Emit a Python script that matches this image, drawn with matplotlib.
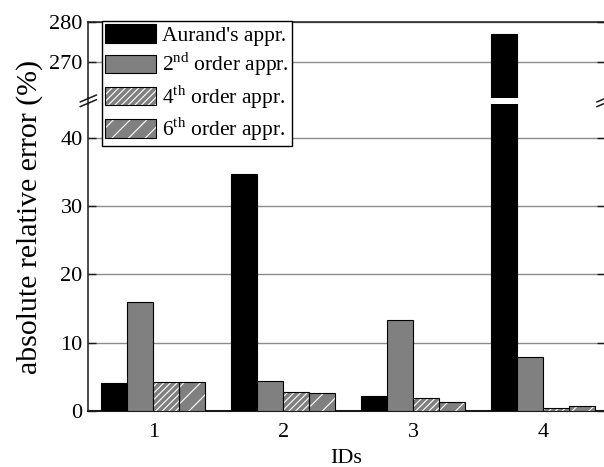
import numpy as np
import matplotlib
matplotlib.use("Agg")
import matplotlib.pyplot as plt
from matplotlib.patches import Rectangle
from matplotlib.lines import Line2D

plt.rcParams['font.family'] = ['Liberation Serif', 'DejaVu Serif']
plt.rcParams['mathtext.fontset'] = 'custom'
plt.rcParams['mathtext.rm'] = 'Liberation Serif'
plt.rcParams['hatch.linewidth'] = 0.8

# ----------------------------
# Data
# ----------------------------
ids = [1, 2, 3, 4]
aurand = [4.0, 34.8, 2.15, 277.0]
order2 = [15.9, 4.4, 13.3, 7.9]
order4 = [4.2, 2.75, 1.8, 0.35]
order6 = [4.25, 2.55, 1.3, 0.7]

labels = ["Aurand's appr.", r"2$^{\rm nd}$ order appr.",
          r"4$^{\rm th}$ order appr.", r"6$^{\rm th}$ order appr."]

W, H = 604, 467
fig = plt.figure(figsize=(W / 100, H / 100), dpi=100)

x_left, x_right = 88.3, 605.0
top_t, top_b = 21.7, 97.7
bot_t, bot_b = 104.0, 410.7


def fig_rect(l, r, t, b):
    return [l / W, 1 - b / H, (r - l) / W, (b - t) / H]


ax_top = fig.add_axes(fig_rect(x_left, x_right, top_t, top_b))
ax_bot = fig.add_axes(fig_rect(x_left, x_right, bot_t, bot_b))

width = 0.2
x = np.array(ids, dtype=float)
gray = '#808080'
spine_c = '#1a1a1a'

for ax in (ax_top, ax_bot):
    ax.bar(x - 1.5 * width, aurand, width, color='black', edgecolor='black', lw=0.8, zorder=3)
    ax.bar(x - 0.5 * width, order2, width, color=gray, edgecolor='black', lw=0.8, zorder=3)
    # hatched bars: white hatch, black outline drawn separately
    ax.bar(x + 0.5 * width, order4, width, color=gray, edgecolor='white', lw=0, hatch='/////', zorder=3)
    ax.bar(x + 0.5 * width, order4, width, fill=False, edgecolor='black', lw=0.8, zorder=4)
    ax.bar(x + 1.5 * width, order6, width, color=gray, edgecolor='white', lw=0, hatch='//', zorder=3)
    ax.bar(x + 1.5 * width, order6, width, fill=False, edgecolor='black', lw=0.8, zorder=4)

    ax.set_xlim(0.5, 4.475)
    ax.yaxis.grid(True, color='#8c8c8c', lw=1.0, zorder=0)
    ax.set_axisbelow(True)
    ax.tick_params(axis='y', direction='in', length=6, width=1.0, left=True, right=True,
                   labelsize=16, colors=spine_c, labelcolor='black', pad=4)
    ax.tick_params(axis='x', length=0, labelsize=16, pad=9)
    for s in ax.spines.values():
        s.set_color(spine_c)
        s.set_linewidth(1.1)

ax_top.set_ylim(261, 280)
ax_top.set_yticks([270, 280])
ax_top.set_xticks([])
ax_top.spines['bottom'].set_visible(False)

ax_bot.set_ylim(0, 45)
ax_bot.set_yticks([0, 10, 20, 30, 40])
ax_bot.set_xticks(ids)
ax_bot.set_xticklabels([str(i) for i in ids])
ax_bot.spines['top'].set_visible(False)
ax_bot.spines['bottom'].set_linewidth(1.5)
ax_bot.set_xlabel('IDs', fontsize=16, labelpad=5)

# left spine through the gap
fig.add_artist(Line2D([x_left / W, x_left / W], [1 - top_b / H, 1 - bot_t / H],
                      transform=fig.transFigure, color=spine_c, lw=1.1))

# break marks
for xc in (x_left, x_right):
    for yc in (top_b + 0.8, bot_t - 0.8):
        fig.add_artist(Line2D([(xc - 8) / W, (xc + 8) / W],
                              [1 - (yc + 3.4) / H, 1 - (yc - 3.4) / H],
                              transform=fig.transFigure, color=spine_c, lw=1.1))

fig.text(30 / W, 1 - 217 / H, 'absolute relative error (%)', rotation=90,
         fontsize=21.5, ha='center', va='center')

# legend
h_aur = Rectangle((0, 0), 1, 1, facecolor='black', edgecolor='black', lw=0.8)
h_o2 = Rectangle((0, 0), 1, 1, facecolor=gray, edgecolor='black', lw=0.8)
h_o4 = (Rectangle((0, 0), 1, 1, facecolor=gray, edgecolor='white', lw=0, hatch='/////'),
        Rectangle((0, 0), 1, 1, fill=False, edgecolor='black', lw=0.8))
h_o6 = (Rectangle((0, 0), 1, 1, facecolor=gray, edgecolor='white', lw=0, hatch='//'),
        Rectangle((0, 0), 1, 1, fill=False, edgecolor='black', lw=0.8))
leg = fig.legend([h_aur, h_o2, h_o4, h_o6], labels, loc='upper left',
                 bbox_to_anchor=(102 / W, 1 - 21.2 / H), bbox_transform=fig.transFigure,
                 fontsize=15.5, frameon=True, fancybox=False, framealpha=1,
                 handlelength=2.35, handleheight=0.95, handletextpad=0.3,
                 labelspacing=0.22, borderpad=0.15, borderaxespad=0)
leg.get_frame().set_edgecolor('black')
leg.get_frame().set_linewidth(1.0)

fig.savefig('out.png', dpi=100)
